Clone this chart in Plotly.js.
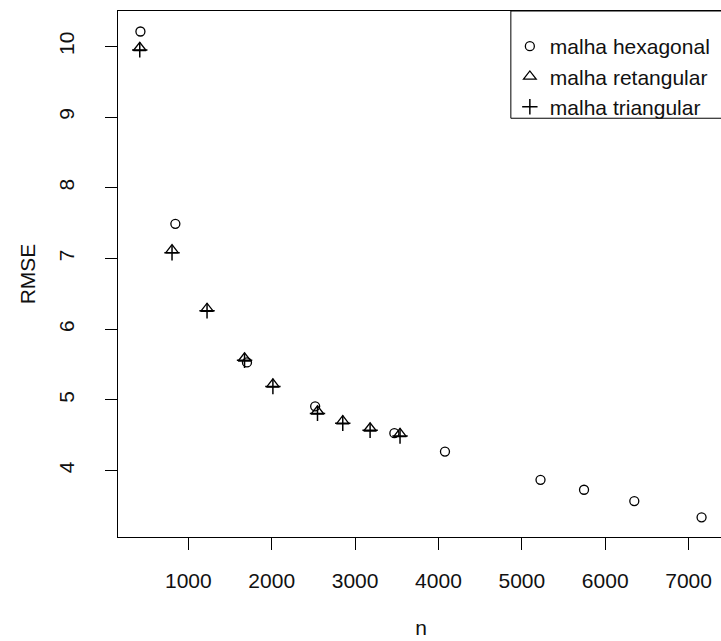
<!DOCTYPE html>
<html>
<head>
<meta charset="utf-8">
<script src="https://cdn.plot.ly/plotly-3.0.1.min.js"></script>
<style>
  html, body { margin: 0; padding: 0; background: #ffffff; overflow: hidden; }
  #chart { width: 760px; height: 641px; }
</style>
</head>
<body>
<div id="chart"></div>
<script>
// ---- data ----
const hexN    = [425, 844, 1703, 2521, 3471, 4078, 5224, 5746, 6349, 7156];
const hexRMSE = [10.21, 7.49, 5.53, 4.91, 4.53, 4.27, 3.87, 3.73, 3.57, 3.34];

const retN    = [417, 804, 1224, 1674, 2014, 2549, 2852, 3180, 3539];
const retRMSE = [9.98, 7.12, 6.29, 5.59, 5.22, 4.84, 4.70, 4.60, 4.52];

const triN    = [417, 804, 1224, 1674, 2014, 2549, 2852, 3180, 3539];
const triRMSE = [9.95, 7.08, 6.26, 5.56, 5.19, 4.81, 4.67, 4.57, 4.49];

const seriesNames = ["malha hexagonal", "malha retangular", "malha triangular"];
const xTicks = [1000, 2000, 3000, 4000, 5000, 6000, 7000];
const yTicks = [4, 5, 6, 7, 8, 9, 10];
const xTitle = "n";
const yTitle = "RMSE";

// ---- layout geometry (pixels) ----
const W = 760, H = 641;
const L = 117.5, T = 11, R = 724.5, B = 537.3;
const pw = R - L, ph = B - T;
const px2paper = p => (p - L) / pw;
const py2paper = p => (B - p) / ph;

const FONT = "Liberation Sans, Arial, Helvetica, sans-serif";

const traces = [
  {
    x: hexN, y: hexRMSE, name: seriesNames[0], type: "scatter", mode: "markers",
    marker: { symbol: "circle-open", size: 9, color: "#000", line: { width: 1.3, color: "#000" } }
  },
  {
    x: retN, y: retRMSE, name: seriesNames[1], type: "scatter", mode: "markers",
    marker: { symbol: "triangle-up-open", size: 11, color: "#000", line: { width: 1.3, color: "#000" } }
  },
  {
    x: triN, y: triRMSE, name: seriesNames[2], type: "scatter", mode: "markers",
    marker: { symbol: "cross-thin-open", size: 11, color: "#000", line: { width: 1.5, color: "#000" } }
  }
];

const layout = {
  width: W, height: H,
  margin: { l: L, r: W - R, t: T, b: H - B, pad: 0 },
  paper_bgcolor: "#ffffff",
  plot_bgcolor: "#ffffff",
  font: { family: FONT, size: 21, color: "#000" },
  showlegend: true,
  xaxis: {
    range: [156, 7425],
    tickmode: "array", tickvals: xTicks, ticktext: xTicks.map(String),
    ticks: "outside", ticklen: 12, tickwidth: 1, tickcolor: "#000",
    ticklabelstandoff: 13,
    showline: true, linecolor: "#000", linewidth: 1, mirror: true,
    showgrid: false, zeroline: false,
    tickfont: { family: FONT, size: 21, color: "#111" },
    title: { text: xTitle, font: { family: FONT, size: 21, color: "#111" }, standoff: 29 }
  },
  yaxis: {
    range: [3.062, 10.5],
    tickmode: "array", tickvals: yTicks, ticktext: yTicks.map(String),
    ticks: "outside", ticklen: 12, tickwidth: 1, tickcolor: "#000",
    tickangle: -90,
    ticklabelstandoff: 23,
    showline: true, linecolor: "#000", linewidth: 1, mirror: true,
    showgrid: false, zeroline: false,
    tickfont: { family: FONT, size: 21, color: "#111" },
    title: { text: yTitle, font: { family: FONT, size: 21, color: "#111" }, standoff: 13 }
  },
  legend: {
    x: px2paper(510), xanchor: "left",
    y: py2paper(26), yanchor: "top",
    bgcolor: "rgba(0,0,0,0)",
    borderwidth: 0,
    font: { family: FONT, size: 21, color: "#111" },
    itemclick: false, itemdoubleclick: false
  },
  shapes: [
    {
      type: "rect", xref: "paper", yref: "paper", layer: "below",
      x0: px2paper(511), x1: 1, y0: py2paper(118.3), y1: 1,
      line: { color: "#000", width: 1 }, fillcolor: "#ffffff"
    }
  ]
};

Plotly.newPlot("chart", traces, layout, { displayModeBar: false, responsive: false, staticPlot: true });
</script>
</body>
</html>
